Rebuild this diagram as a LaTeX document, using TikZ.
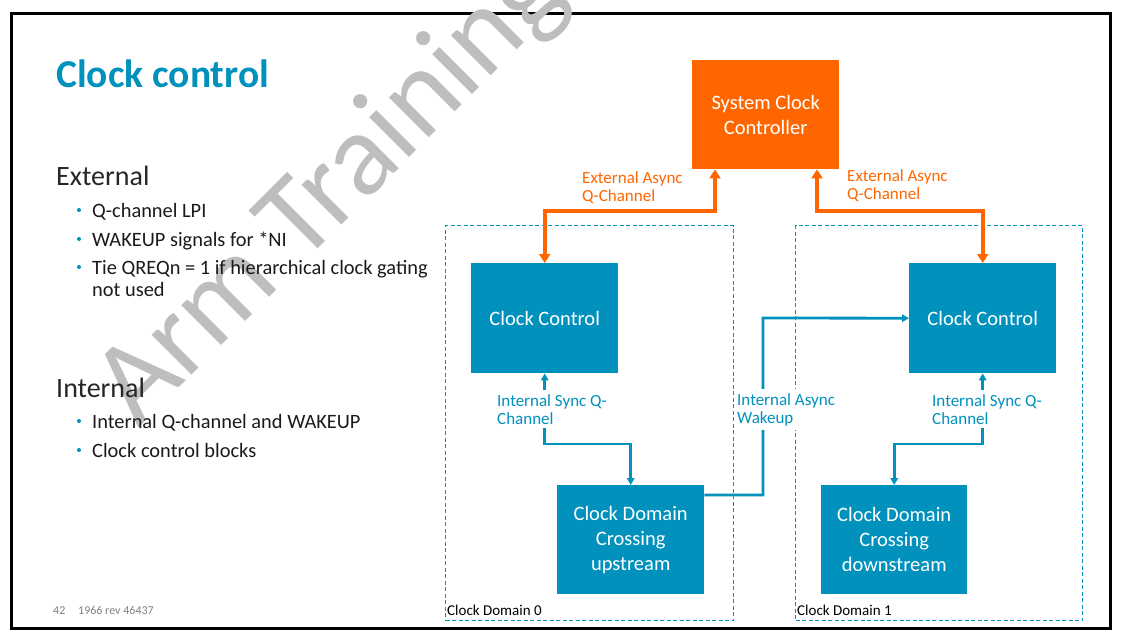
\documentclass[tikz,border=0pt]{standalone}
\usepackage{fontspec}
\setmainfont{Carlito}
\usetikzlibrary{arrows.meta,calc}
\definecolor{armteal}{HTML}{0091BD}
\definecolor{armorange}{HTML}{FF6600}
\definecolor{wmgray}{HTML}{BEBEBE}
\definecolor{footgray}{HTML}{808080}
\definecolor{bodyink}{HTML}{1A1A1A}
\definecolor{headink}{HTML}{262626}
\tikzset{
  block/.style={fill=armteal, text=white, inner sep=0pt, align=center,
    font=\fontsize{20.5}{25}\selectfont, minimum width=147pt, minimum height=109pt, anchor=north west},
  sysblock/.style={block, fill=armorange},
  domainbox/.style={draw=armteal, line width=1pt, dash pattern=on 4pt off 2.5pt, inner sep=0pt, anchor=north west},
  extlink/.style={draw=armorange, line width=4pt,
    {Triangle[width=11pt,length=9pt]}-{Triangle[width=11pt,length=9pt]}},
  intlink/.style={draw=armteal, line width=2.8pt},
  tipboth/.style={{Triangle[width=7.5pt,length=7pt]}-{Triangle[width=7.5pt,length=7pt]}},
  tipend/.style={-{Triangle[width=7.5pt,length=7pt]}},
  sig/.style={font=\fontsize{17}{18}\selectfont, align=left, anchor=base west, inner xsep=1pt, inner ysep=4pt},
  bodyline/.style={font=\fontsize{20.4}{24}\selectfont, text=bodyink, anchor=base west, inner sep=0pt},
  heading/.style={font=\fontsize{28}{32}\selectfont, text=headink, anchor=base west, inner sep=0pt},
  domlabel/.style={font=\fontsize{15}{18}\selectfont, text=black, anchor=base west, inner sep=0pt},
  foot/.style={font=\fontsize{12}{14}\selectfont, text=footgray, anchor=base west, inner sep=0pt},
}
\begin{document}
\begin{tikzpicture}[x=1pt,y=-1pt]
\useasboundingbox (0,0) rectangle (1122,641);
% slide frame
\draw[line width=3pt, black] (11,13) rectangle (1110,628);
% watermark
\begin{scope}
\clip (0,0) rectangle (1122,641);
\node[rotate=45, anchor=base west, inner sep=0pt, text=wmgray,
  font=\fontsize{118}{118}\selectfont] (wm) at (138,429) {Arm Training};
\end{scope}
% title and text
\node[anchor=base west, inner sep=0pt, text=armteal, font=\fontsize{39.5}{44}\selectfont\bfseries] (title) at (56,87) {Clock control};
\node[heading] (ext) at (56,185) {External};
\node[bodyline] (b1) at (92,217) {Q-channel LPI};
\node[bodyline] (b2) at (92,246) {WAKEUP signals for *NI};
\node[bodyline] (b3) at (92,274) {Tie QREQn = 1 if hierarchical clock gating};
\node[bodyline] (b3b) at (92,296) {not used};
\node[heading] (int) at (56,397) {Internal};
\node[bodyline] (b4) at (92,428) {Internal Q-channel and WAKEUP};
\node[bodyline] (b5) at (92,457) {Clock control blocks};
\foreach \yy in {210,239,267,421,450} \fill[armteal] (79,\yy) circle (2pt);
\node[foot] (pg) at (53,614) {42};
\node[foot] (rev) at (78,614) {1966 rev 46437};
% domains
\node[domainbox, minimum width=288pt, minimum height=395pt] (dom0) at (445,225) {};
\node[domainbox, minimum width=287pt, minimum height=395pt] (dom1) at (795,225) {};
\node[domlabel] (dom0l) at (447,615) {Clock Domain 0};
\node[domlabel] (dom1l) at (797,615) {Clock Domain 1};
% blocks
\node[sysblock] (scc) at (692,60) {System Clock\\Controller};
\node[block, minimum height=110pt] (ccL) at (471,263) {Clock Control};
\node[block, minimum height=110pt] (ccR) at (909,263) {Clock Control};
\node[block] (cdcU) at (557,485) {Clock Domain\\Crossing\\upstream};
\node[block, minimum width=146pt] (cdcD) at (821,485) {Clock Domain\\Crossing\\downstream};
% external links
\draw[extlink] (scc.south -| 715,0) -- (715,211) -| (ccL.north);
\draw[extlink] (scc.south -| 817,0) -- (817,211) -| (ccR.north);
\node[sig, text=armorange] (extLl) at (581,201) {External Async\\Q-Channel};
\node[sig, text=armorange] (extRl) at (846,199) {External Async\\Q-Channel};
% internal links
\draw[intlink, tipboth] (ccL.south) -- (ccL.south |- 0,444) -| (cdcU.north);
\draw[intlink, tipboth] (ccR.south) -- (ccR.south |- 0,444) -| (cdcD.north);
\draw[intlink, tipend] ($(cdcU.north east)+(0,10)$) -| (763,318) -- (ccR.west);
\node[sig, text=armteal, fill=white] (isL) at (496,424) {Internal Sync Q-\\Channel};
\node[sig, text=armteal, fill=white] (isR) at (931,424) {Internal Sync Q-\\Channel};
\node[sig, text=armteal, fill=white] (iaw) at (736,423) {Internal Async\\Wakeup};
\end{tikzpicture}
\end{document}
